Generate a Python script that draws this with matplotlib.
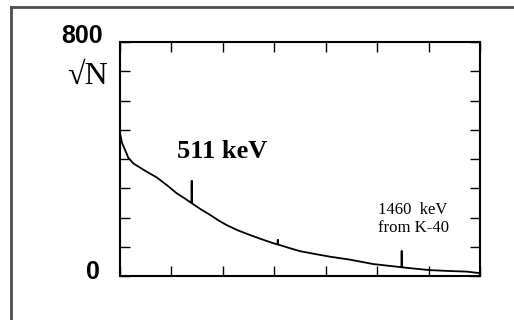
import numpy as np
import matplotlib
matplotlib.use("Agg")
import matplotlib.pyplot as plt
from matplotlib.lines import Line2D

# Background gamma spectrum (energy in keV, sqrt of counts)
energy = [187, 196, 210, 224, 247, 300, 353, 400, 443, 480,
          511, 511, 511, 550, 594, 630, 669, 720, 775, 830, 880,
          900, 900, 900, 955, 1000, 1070, 1136, 1226, 1330, 1400,
          1460, 1460, 1460, 1520, 1588, 1678, 1754, 1799, 1814]
sqrt_n = [490, 455, 431, 405, 385, 360, 337, 310, 283, 265,
          249, 325, 249, 229, 209, 191, 174, 156, 140, 125, 112,
          108, 123, 108, 95, 85, 75, 66, 56, 41, 35,
          30, 85, 30, 25, 20, 17, 15, 11, 10]

x_range = (187, 1814)
y_range = (0, 800)

fig = plt.figure(figsize=(5.14, 3.2), dpi=100)
ax = fig.add_axes([120 / 514, 1 - 276 / 320, 360 / 514, 234 / 320])

ax.plot(energy, sqrt_n, color="black", lw=1.3)

ax.set_xlim(*x_range)
ax.set_ylim(*y_range)
ax.set_xticks(np.linspace(x_range[0], x_range[1], 8))
ax.set_yticks(np.arange(0, 801, 100))
ax.tick_params(which="both", direction="in", length=7, width=1,
               top=True, right=True, labelbottom=False, labelleft=False)
for s in ax.spines.values():
    s.set_linewidth(1.5)

num_font = ["Liberation Sans", "DejaVu Sans"]
txt_font = ["Liberation Serif", "DejaVu Serif"]

fig.text(103 / 514, 1 - 36 / 320, "800", ha="right", va="center",
         fontsize=18, fontweight="bold", family=num_font)
fig.text(100 / 514, 1 - 272 / 320, "0", ha="right", va="center",
         fontsize=18, fontweight="bold", family=num_font)
fig.text(108 / 514, 1 - 76 / 320, "√N", ha="right", va="center",
         fontsize=23, family=txt_font)

fig.text(177 / 514, 1 - 151 / 320, "511 keV", ha="left", va="center",
         fontsize=19, fontweight="bold", family=txt_font)
fig.text(378 / 514, 1 - 219 / 320, "1460  keV\nfrom K-40", ha="left",
         va="center", fontsize=12, family=txt_font, linespacing=1.2)

# outer frame around the figure panel
frame_x = 11 / 514
frame_y = 1 - 7 / 320
fig.add_artist(Line2D([frame_x, frame_x], [0, frame_y], transform=fig.transFigure,
                      color="#4d4d4d", lw=2))
fig.add_artist(Line2D([frame_x, 1], [frame_y, frame_y], transform=fig.transFigure,
                      color="#4d4d4d", lw=2))

fig.savefig("out.png", dpi=100)
